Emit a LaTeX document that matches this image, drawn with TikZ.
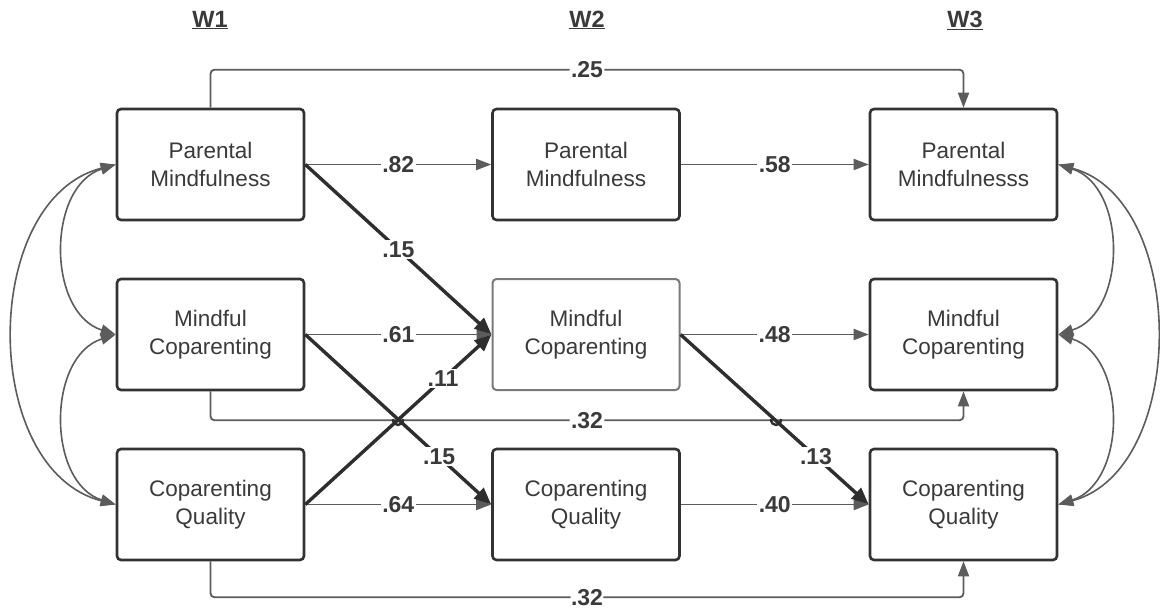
\documentclass[tikz,border=0pt]{standalone}
\usepackage{fontspec}
\setmainfont{Liberation Sans}
\usetikzlibrary{arrows.meta}
\definecolor{boxc}{HTML}{333333}
\definecolor{textc}{HTML}{3A3A3A}
\definecolor{linec}{HTML}{5C5C5C}
\definecolor{boldc}{HTML}{2E2E2E}
\definecolor{lightc}{HTML}{7A7A7A}
\tikzset{
  box/.style={draw=boxc, line width=2.6pt, rounded corners=4pt, minimum width=187pt, minimum height=111pt, align=center, font=\fontsize{22.5}{28}\selectfont, text=textc, inner sep=0pt},
  harr/.style={draw=linec, line width=1.8pt, -{Triangle[length=15pt,width=11pt]}, color=linec},
  barr/.style={draw=boldc, line width=3.4pt, -{Triangle[length=17pt,width=14pt]}, color=boldc},
  curv/.style={draw=linec, line width=1.6pt, {Triangle[length=15pt,width=11pt]}-{Triangle[length=15pt,width=11pt]}, color=linec},
  lbl/.style={fill=white, inner sep=1.5pt, font=\fontsize{23}{26}\selectfont\bfseries, text=textc},
  head/.style={font=\fontsize{23.5}{26}\selectfont\bfseries, text=textc},
  hop/.style={draw=boldc, line width=2.4pt}
}
\begin{document}
\begin{tikzpicture}[x=1pt,y=-1pt]
\useasboundingbox[fill=white] (0,0) rectangle (1160,610);
% headings
\node[head] (h1) at (210,20) {\underline{W1}};
\node[head] (h2) at (587,20) {\underline{W2}};
\node[head] (h3) at (965,20) {\underline{W3}};
% boxes
\node[box] (a1) at (210.5,164.5) {Parental\\Mindfulness};
\node[box] (b1) at (210.5,334.5) {Mindful\\Coparenting};
\node[box] (c1) at (210.5,504.5) {Coparenting\\Quality};
\node[box] (a2) at (586,164.5) {Parental\\Mindfulness};
\node[box, draw=lightc, line width=2pt] (b2) at (586,334.5) {Mindful\\Coparenting};
\node[box] (c2) at (586,504.5) {Coparenting\\Quality};
\node[box] (a3) at (963.5,164.5) {Parental\\Mindfulnesss};
\node[box] (b3) at (963.5,334.5) {Mindful\\Coparenting};
\node[box] (c3) at (963.5,504.5) {Coparenting\\Quality};
% long paths
\draw[harr, rounded corners=4pt] (a1.north) -- ++(0,-38) -| node[pos=0.25, lbl]{.25} (a3.north);
\draw[harr, rounded corners=4pt] (b1.south) -- ++(0,29) -| node[pos=0.25, lbl]{.32} (b3.south);
\draw[harr, rounded corners=4pt] (c1.south) -- ++(0,36) -| node[pos=0.25, lbl, inner sep=0.5pt]{.32} (c3.south);
% horizontal
\draw[harr] (a1.east) -- node[lbl]{.82} (a2.west);
\draw[harr] (b1.east) -- node[lbl]{.61} (b2.west);
\draw[harr] (c1.east) -- node[lbl]{.64} (c2.west);
\draw[harr] (a2.east) -- node[lbl]{.58} (a3.west);
\draw[harr] (b2.east) -- node[lbl]{.48} (b3.west);
\draw[harr] (c2.east) -- node[lbl]{.40} (c3.west);
% diagonals
\draw[barr] (a1.east) -- node[lbl]{.15} (b2.west);
\draw[barr] (b1.east) -- node[pos=0.72, lbl]{.15} (c2.west);
\draw[barr] (c1.east) -- node[pos=0.74, lbl]{.11} (b2.west);
\draw[barr] (b2.east) -- node[pos=0.72, lbl]{.13} (c3.west);
% hops
\coordinate (j1) at (398,419);
\coordinate (j2) at (776,419);
\draw[hop] ([xshift=-5pt]j1) .. controls ([xshift=-5pt,yshift=-8pt]j1) and ([xshift=5pt,yshift=-8pt]j1) .. ([xshift=5pt]j1);
\draw[hop] ([xshift=-5pt]j2) .. controls ([xshift=-5pt,yshift=-8pt]j2) and ([xshift=5pt,yshift=-8pt]j2) .. ([xshift=5pt]j2);
% correlations left
\draw[curv] (a1.west) .. controls +(-69,22) and +(-69,-22) .. (b1.west);
\draw[curv] (b1.west) .. controls +(-69,22) and +(-69,-22) .. (c1.west);
\draw[curv] (a1.west) .. controls +(-136,35) and +(-136,-35) .. (c1.west);
% correlations right
\draw[curv] (a3.east) .. controls +(69,22) and +(69,-22) .. (b3.east);
\draw[curv] (b3.east) .. controls +(69,22) and +(69,-22) .. (c3.east);
\draw[curv] (a3.east) .. controls +(130,35) and +(130,-35) .. (c3.east);
\end{tikzpicture}
\end{document}
